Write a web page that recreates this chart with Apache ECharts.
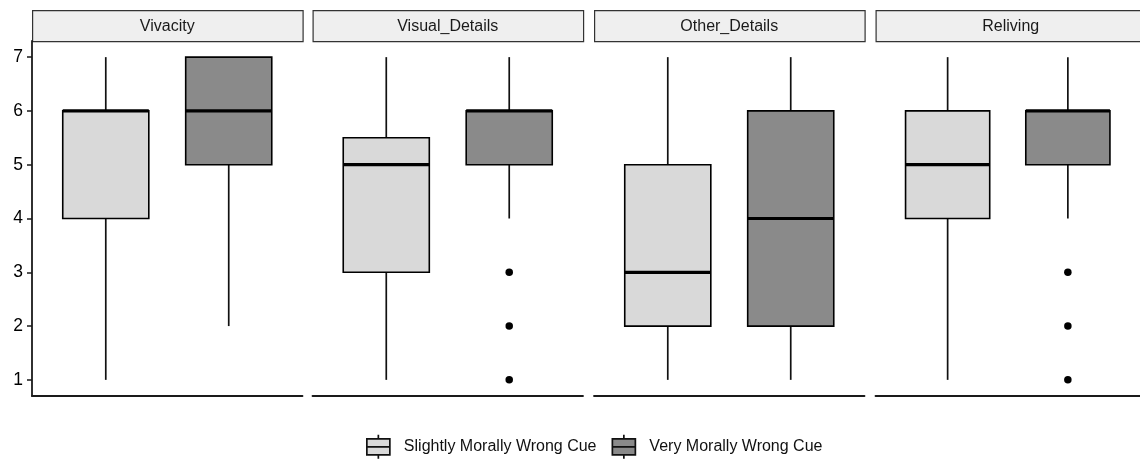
<!DOCTYPE html>
<html>
<head>
<meta charset="utf-8">
<script src="https://cdn.jsdelivr.net/npm/echarts@6/dist/echarts.min.js"></script>
<style>
html,body{margin:0;padding:0;background:#fff;}
#chart{width:1140px;height:459px;}
</style>
</head>
<body>
<div id="chart"></div>
<script>
// ---- data ----
const panels = ['Vivacity', 'Visual_Details', 'Other_Details', 'Reliving'];
const cues = ['Slightly Morally Wrong Cue', 'Very Morally Wrong Cue'];
// [min, Q1, median, Q3, max]
const slightlyStats = [[1, 4, 6, 6, 7], [1, 3, 5, 5.5, 7], [1, 2, 3, 5, 7], [1, 4, 5, 6, 7]];
const veryStats = [[2, 5, 6, 7, 7], [4, 5, 6, 6, 7], [1, 2, 4, 6, 7], [4, 5, 6, 6, 7]];
const slightlyOutliers = [[], [], [], []];
const veryOutliers = [[], [3, 2, 1], [], [3, 2, 1]];
const yTicks = [1, 2, 3, 4, 5, 6, 7];

// ---- layout / style ----
const FONT = "'Liberation Sans', Arial, Helvetica, sans-serif";
const fills = ['#d9d9d9', '#8a8a8a'];
const panelLefts = [32, 312.5, 594, 875.5];
const panelW = 270.5;
const plotTop = 41, plotH = 355, stripTop = 10, stripH = 31;

const chart = echarts.init(document.getElementById('chart'), null, {renderer: 'canvas'});

function renderBox(params, api) {
  const x = api.value(0);
  const mn = api.value(1), q1 = api.value(2), md = api.value(3), q3 = api.value(4), mx = api.value(5);
  const halfW = api.size([0.7, 0])[0] / 2;
  const pMax = api.coord([x, mx]), pQ3 = api.coord([x, q3]), pMd = api.coord([x, md]);
  const pQ1 = api.coord([x, q1]), pMin = api.coord([x, mn]);
  const cx = pMax[0];
  const fill = api.visual('color');
  return {
    type: 'group',
    children: [
      {type: 'line', shape: {x1: cx, y1: pMax[1], x2: cx, y2: pQ3[1]}, style: {stroke: '#111', lineWidth: 1.7}},
      {type: 'line', shape: {x1: cx, y1: pQ1[1], x2: cx, y2: pMin[1]}, style: {stroke: '#111', lineWidth: 1.7}},
      {type: 'rect', shape: {x: cx - halfW, y: pQ3[1], width: halfW * 2, height: pQ1[1] - pQ3[1]},
        style: {fill: fill, stroke: '#000', lineWidth: 1.6}},
      {type: 'line', shape: {x1: cx - halfW, y1: pMd[1], x2: cx + halfW, y2: pMd[1]}, style: {stroke: '#000', lineWidth: 3.2}}
    ]
  };
}

const grids = [], xAxes = [], yAxes = [], series = [], graphics = [];
panels.forEach((p, i) => {
  grids.push({left: panelLefts[i], top: plotTop, width: panelW, height: plotH, containLabel: false});
  xAxes.push({
    type: 'value', gridIndex: i, min: 0.4, max: 2.6,
    axisLine: {show: true, onZero: false, lineStyle: {color: '#1a1a1a', width: 1.8}},
    axisTick: {show: false}, axisLabel: {show: false}, splitLine: {show: false}
  });
  yAxes.push({
    type: 'value', gridIndex: i, min: 0.7, max: 7.3,
    show: i === 0,
    axisLine: {show: i === 0, lineStyle: {color: '#1a1a1a', width: 1.8}},
    axisTick: {show: i === 0, length: 5, customValues: yTicks, lineStyle: {color: '#1a1a1a', width: 1.5}},
    axisLabel: {show: i === 0, customValues: yTicks, margin: 9, color: '#000', fontSize: 17.5, fontFamily: FONT},
    splitLine: {show: false}
  });
  const statsSets = [slightlyStats, veryStats];
  const outSets = [slightlyOutliers, veryOutliers];
  cues.forEach((c, k) => {
    const s = statsSets[k][i];
    series.push({
      type: 'custom', name: c, xAxisIndex: i, yAxisIndex: i,
      itemStyle: {color: fills[k], borderColor: '#000', borderWidth: 1.6},
      renderItem: renderBox,
      encode: {x: 0, y: [1, 2, 3, 4, 5]},
      data: [[k + 1].concat(s)],
      z: 2
    });
    if (outSets[k][i].length) {
      series.push({
        type: 'scatter', name: c, xAxisIndex: i, yAxisIndex: i,
        symbolSize: 7.5, itemStyle: {color: '#000', opacity: 1},
        data: outSets[k][i].map(v => [k + 1, v]),
        z: 3, silent: true
      });
    }
  });
  graphics.push({
    type: 'rect', left: panelLefts[i], top: stripTop,
    shape: {width: panelW, height: stripH},
    style: {fill: '#efefef', stroke: '#333', lineWidth: 1.2}
  });
  graphics.push({
    type: 'text', x: panelLefts[i] + panelW / 2, y: stripTop + stripH / 2 + 1,
    style: {text: p, fill: '#1a1a1a', font: '16px ' + FONT, textAlign: 'center', textVerticalAlign: 'middle'}
  });
});

const iconPath = 'path://M11.5 0L11.5 4M0 4L23 4L23 20L0 20ZM0 12L23 12M11.5 20L11.5 24';

chart.setOption({
  animation: false,
  backgroundColor: '#fff',
  textStyle: {fontFamily: FONT},
  grid: grids,
  xAxis: xAxes,
  yAxis: yAxes,
  graphic: graphics,
  legend: {
    left: 366, top: 434, padding: 0, itemGap: 15,
    itemWidth: 23, itemHeight: 24, selectedMode: false,
    textStyle: {fontSize: 16, color: '#111', fontFamily: FONT, padding: [0, 0, 0, 9]},
    data: cues.map((c, k) => ({
      name: c, icon: iconPath,
      itemStyle: {color: fills[k], borderColor: '#111', borderWidth: 1.7}
    }))
  },
  series: series
});
</script>
</body>
</html>
